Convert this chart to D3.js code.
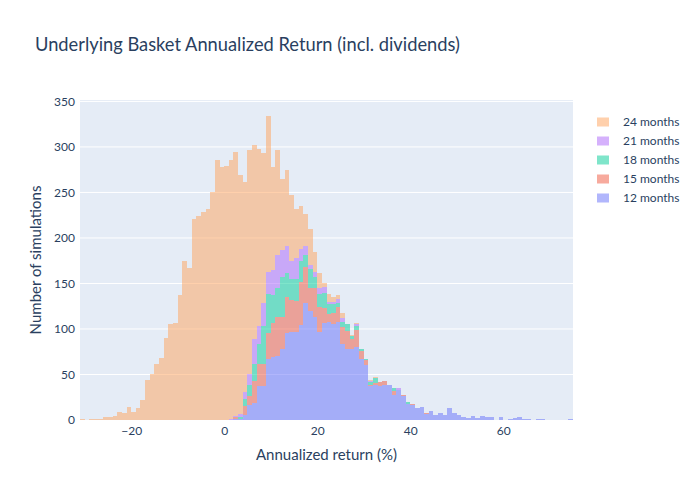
<!DOCTYPE html>
<html><head><meta charset="utf-8">
<script src="https://cdn.jsdelivr.net/npm/d3@7/dist/d3.min.js"></script>
<style>body{margin:0;background:#fff}svg{display:block}</style>
</head><body>
<svg id="chart" width="700" height="500"></svg>
<script>
// Histogram bins: left edges from -31 to 74, width 1 (annualized return, %)
const binStart = -31;
const binWidth = 1;
const seriesNames = ["12 months", "15 months", "18 months", "21 months", "24 months"];
const seriesColors = ["#636efa", "#EF553B", "#00cc96", "#ab63fa", "#FFA15A"];
const xTicks = [-20, 0, 20, 40, 60];
const yTicks = [0, 50, 100, 150, 200, 250, 300, 350];

// counts per bin (bins -31 .. 74)
const months12 = [
  0,0,0,0,0,0,0,0,0,0, 0,0,0,0,0,0,0,0,0,0, 0,0,0,0,0,0,0,0,0,0, 0,0,
  0,1,1,6,16,19,37,37,67,69, 70,78,96,97,97,104,128,120,113,97,
  107,108,105,108,83,78,78,80,67,60, 37,39,37,38,38,28,33,26,18,16,
  13,14,7,10,6,8,5,13,8,6, 3,2,4,2,4,3,3,0,3,0,
  1,2,3,1,1,0,1,1,0,0, 0,0,0,1
];
const months15 = [
  0,0,0,0,0,0,0,0,0,0, 0,0,0,0,0,0,0,0,0,0, 0,0,0,0,0,0,0,0,0,0, 0,0,
  0,2,0,9,10,24,24,25,29,38, 43,35,39,35,34,48,40,25,32,27,
  16,9,13,16,19,20,11,19,9,6, 2,2,5,5,0,4,0,1,0,2,
  0,0,1,0,0,0,0,0,0,0, 0,0,0,0,0,0,0,0,0,0,
  0,0,0,0,0,0,0,0,0,0, 0,0,0,0
];
const months18 = [
  0,0,0,0,0,0,0,0,0,0, 0,0,0,0,0,0,0,0,0,0, 0,0,0,0,0,0,0,0,0,0, 0,0,
  0,0,2,8,13,19,22,41,42,30, 32,44,26,23,24,23,13,21,12,14,
  17,10,9,5,6,7,3,4,2,1, 3,5,0,0,0,3,0,0,2,0,
  0,0,0,0,0,0,0,0,0,0, 0,0,0,0,0,0,0,0,0,0,
  0,0,0,0,0,0,0,0,0,0, 0,0,0,0
];
const months21 = [
  0,0,0,0,0,0,0,0,0,0, 0,0,0,0,0,0,0,0,0,0, 0,0,0,0,0,0,0,0,0,0, 0,0,
  1,1,4,8,11,27,20,26,25,28, 36,30,30,20,23,13,10,4,6,7,
  6,3,3,4,4,0,0,2,0,0, 1,0,0,0,0,0,2,0,0,0,
  0,0,0,0,0,0,0,0,0,0, 0,0,0,0,0,0,0,0,0,0,
  0,0,0,0,0,0,0,0,0,0, 0,0,0,0
];
const months24 = [
  1,0,1,1,1,3,3,4,9,8, 14,9,13,22,44,50,61,68,90,106,
  107,137,175,167,221,224,228,232,250,286, 278,279,
  285,290,262,230,247,213,195,164,171,113, 116,78,84,72,54,47,35,40,22,16,
  5,8,5,4,6,1,1,2,0,0, 1,1,0,0,0,0,0,0,0,0,
  0,0,0,0,0,0,0,0,0,0, 0,0,0,0,0,0,0,0,0,0,
  0,0,0,0,0,0,0,0,0,0, 0,0,0,0
];

const seriesData = [months12, months15, months18, months21, months24];
const table = months12.map((_, i) => {
  const row = { x0: binStart + i * binWidth, x1: binStart + (i + 1) * binWidth };
  seriesNames.forEach((n, k) => row[n] = seriesData[k][i]);
  return row;
});

const FONT = "Lato, 'Open Sans', sans-serif";
const TXT = "#2a3f5f";
const svg = d3.select("#chart");
const W = 700, H = 500;
const m = { l: 80, r: 127, t: 100, b: 80 };
svg.append("rect").attr("width", W).attr("height", H).attr("fill", "#fff");

const x = d3.scaleLinear().domain([binStart, binStart + months12.length * binWidth]).range([m.l, W - m.r]);
const ymax = d3.max(table, r => seriesNames.reduce((s, n) => s + r[n], 0)) * 1.0526;
const y = d3.scaleLinear().domain([0, ymax]).range([H - m.b, m.t]);

svg.append("rect").attr("x", m.l).attr("y", m.t).attr("width", W - m.l - m.r).attr("height", H - m.t - m.b).attr("fill", "#E5ECF6");

// horizontal gridlines
svg.append("g").selectAll("line").data(yTicks.filter(t => t > 0)).join("line")
  .attr("x1", m.l).attr("x2", W - m.r).attr("y1", d => y(d)).attr("y2", d => y(d))
  .attr("stroke", "#fff").attr("stroke-width", 1);

const stack = d3.stack().keys(seriesNames)(table);
const plotG = svg.append("g").attr("shape-rendering", "crispEdges");
stack.forEach((layer, k) => {
  plotG.append("g").attr("fill", seriesColors[k]).attr("fill-opacity", 0.5)
    .selectAll("rect").data(layer.filter(d => d[1] > d[0])).join("rect")
    .attr("x", d => x(d.data.x0)).attr("width", d => x(d.data.x1) - x(d.data.x0))
    .attr("y", d => y(d[1])).attr("height", d => y(d[0]) - y(d[1]));
});

// axes
const xAxis = svg.append("g").attr("transform", `translate(0,${H - m.b})`)
  .call(d3.axisBottom(x).tickValues(xTicks).tickSize(0).tickPadding(6).tickFormat(d => d < 0 ? "\u2212" + Math.abs(d) : d));
const yAxis = svg.append("g").attr("transform", `translate(${m.l},0)`)
  .call(d3.axisLeft(y).tickValues(yTicks).tickSize(0).tickPadding(5));
[xAxis, yAxis].forEach(a => {
  a.select(".domain").remove();
  a.selectAll("text").attr("font-family", FONT).attr("font-size", 12).attr("fill", TXT);
});

// titles
svg.append("text").attr("x", 35).attr("y", 51).attr("font-family", FONT).attr("font-size", 18.3).attr("fill", TXT)
  .text("Underlying Basket Annualized Return (incl. dividends)");
svg.append("text").attr("x", (m.l + W - m.r) / 2).attr("y", 460).attr("text-anchor", "middle")
  .attr("font-family", FONT).attr("font-size", 15).attr("fill", TXT).text("Annualized return (%)");
svg.append("text").attr("transform", `translate(41,${(m.t + H - m.b) / 2}) rotate(-90)`).attr("text-anchor", "middle")
  .attr("font-family", FONT).attr("font-size", 15).attr("fill", TXT).text("Number of simulations");

// legend (reversed order, top = 24 months)
const leg = svg.append("g");
seriesNames.slice().reverse().forEach((n, i) => {
  const k = seriesNames.indexOf(n);
  const cy = 122 + i * 19;
  leg.append("rect").attr("x", 597).attr("y", cy - 4.5).attr("width", 12).attr("height", 9)
    .attr("fill", seriesColors[k]).attr("fill-opacity", 0.5);
  leg.append("text").attr("x", 623).attr("y", cy + 4).attr("font-family", FONT).attr("font-size", 12)
    .attr("fill", TXT).text(n);
});
</script>
</body></html>
